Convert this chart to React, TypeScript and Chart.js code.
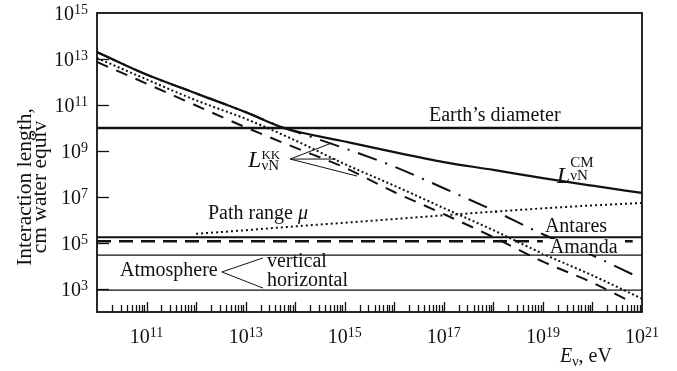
import React, { useEffect, useRef } from "react";
import { Chart, registerables } from "chart.js";

Chart.register(...registerables);

const FONT = '"Liberation Serif", "Times New Roman", serif';

// Axis ranges (eV, cm water equiv)
const X_MIN = 1e10;
const X_MAX = 1e21;
const Y_MIN = 1e2;
const Y_MAX = 1e15;

// Labeled tick exponents
const xTickExponents = [11, 13, 15, 17, 19, 21];
const yTickExponents = [3, 5, 7, 9, 11, 13, 15];

// L_vN^CM (solid)
const cmEnergy = [1e10, 1e11, 1e12, 1e13, 6e13, 1e15, 1e16, 1e17, 1e18, 1e19, 1e20, 1e21];
const cmLength = [2e13, 2.1e12, 3.2e11, 4.9e10, 1e10, 2.6e9, 8.9e8, 3.3e8, 1.5e8, 6.6e7, 3.1e7, 1.5e7];

// L_vN^KK (dash-dot)
const kkDashDotEnergy = [1e10, 1e11, 1e12, 1e13, 6e13, 1e14, 1e15, 1e16, 1e17, 1e18, 1e19, 1e20, 6.8e20];
const kkDashDotLength = [2e13, 2.1e12, 3.2e11, 4.9e10, 1e10, 7e9, 1.3e9, 2.1e8, 2.4e7, 2.6e6, 2.4e5, 2.9e4, 4.1e3];

// L_vN^KK (dotted)
const kkDottedEnergy = [1e10, 1e11, 1e12, 1e13, 1e14, 1e15, 1e16, 1e17, 1e18, 1e19, 1e20, 1e21];
const kkDottedLength = [1.1e13, 1.3e12, 1.6e11, 2.5e10, 2.9e9, 2.7e8, 3.1e7, 3.3e6, 3.6e5, 3.4e4, 3.9e3, 3.8e2];

// L_vN^KK (dashed)
const kkDashedEnergy = [1e10, 1e11, 1e12, 1e13, 1e14, 1e15, 1e16, 1e17, 1e18, 1e19, 1e20, 5.1e20];
const kkDashedLength = [7.4e12, 8.5e11, 9.5e10, 1.07e10, 1.4e9, 1.9e8, 1.65e7, 1.8e6, 1.8e5, 1.55e4, 1.9e3, 3.3e2];

// Muon path range (dotted)
const muEnergy = [1e12, 1e13, 1e14, 1e15, 1e16, 1e17, 1e18, 1e19, 1e20, 1e21];
const muRange = [2.5e5, 3.6e5, 5.3e5, 7.6e5, 1.1e6, 1.6e6, 2.3e6, 3.2e6, 4.3e6, 5.5e6];

// Horizontal reference levels
const earthDiameter = 1e10;
const antaresDepth = 1.8e5;
const amandaDepth = 1.2e5;
const amandaEnd = 6.5e20;
const atmosphereHorizontal = 3e4;
const atmosphereVertical = 9e2;

const pts = (E: number[], L: number[]) => E.map((e, i) => ({ x: e, y: L[i] }));
const hline = (v: number, x0 = X_MIN, x1 = X_MAX) => [
  { x: x0, y: v },
  { x: x1, y: v },
];

function drawPow(ctx: CanvasRenderingContext2D, exp: string, x: number, baseline: number, align: "center" | "right") {
  ctx.font = `20px ${FONT}`;
  const wb = ctx.measureText("10").width;
  ctx.font = `14px ${FONT}`;
  const we = ctx.measureText(exp).width;
  const total = wb + we;
  const x0 = align === "center" ? x - total / 2 : x - total;
  ctx.textAlign = "left";
  ctx.textBaseline = "alphabetic";
  ctx.font = `20px ${FONT}`;
  ctx.fillText("10", x0, baseline);
  ctx.font = `14px ${FONT}`;
  ctx.fillText(exp, x0 + wb, baseline - 6);
}

const decorPlugin = {
  id: "decor",
  afterDraw(chart: any) {
    const ctx: CanvasRenderingContext2D = chart.ctx;
    const xs = chart.scales.x;
    const ys = chart.scales.y;
    const a = chart.chartArea;
    const px = (le: number) => xs.getPixelForValue(Math.pow(10, le));
    const py = (ll: number) => ys.getPixelForValue(Math.pow(10, ll));
    ctx.save();
    ctx.fillStyle = "#111";
    ctx.strokeStyle = "#111";

    // frame
    ctx.lineWidth = 1.8;
    ctx.strokeRect(a.left, a.top, a.right - a.left, a.bottom - a.top);

    // bottom ticks (inside)
    ctx.lineWidth = 1.3;
    for (let d = 10; d <= 20; d++) {
      for (let m = 1; m <= 9; m++) {
        const v = m * Math.pow(10, d);
        const x = Math.round(xs.getPixelForValue(v)) + 0.5;
        const len = m === 1 ? 10 : 7;
        if (d === 10 && m === 1) continue;
        ctx.beginPath();
        ctx.moveTo(x, a.bottom);
        ctx.lineTo(x, a.bottom - len);
        ctx.stroke();
      }
    }
    // left ticks (inside)
    for (const e of yTickExponents) {
      if (e === 15) continue;
      const y = Math.round(py(e)) + 0.5;
      ctx.beginPath();
      ctx.moveTo(a.left, y);
      ctx.lineTo(a.left + 12, y);
      ctx.stroke();
    }

    // tick labels
    for (const e of xTickExponents) drawPow(ctx, String(e), px(e), a.bottom + 31, "center");
    for (const e of yTickExponents) drawPow(ctx, String(e), a.left - 9, py(e) + 7, "right");

    // x title
    ctx.textAlign = "left";
    ctx.textBaseline = "alphabetic";
    ctx.font = `italic 20px ${FONT}`;
    ctx.fillText("E", 560, 362);
    const wE = ctx.measureText("E").width;
    ctx.font = `14px ${FONT}`;
    ctx.fillText("ν", 560 + wE, 366);
    const wn = ctx.measureText("ν").width;
    ctx.font = `20px ${FONT}`;
    ctx.fillText(", eV", 560 + wE + wn, 362);

    // y title
    ctx.save();
    ctx.translate(0, 187);
    ctx.rotate(-Math.PI / 2);
    ctx.textAlign = "center";
    ctx.font = `21.5px ${FONT}`;
    ctx.fillText("Interaction length,", 0, 31);
    ctx.fillText("cm water equiv", 0, 45.5);
    ctx.restore();

    // annotations
    ctx.textAlign = "left";
    ctx.font = `20px ${FONT}`;
    ctx.fillText("Earth’s diameter", px(16.7), py(10.304));
    ctx.fillText("Path range ", px(12.24), py(6.043));
    const wp = ctx.measureText("Path range ").width;
    ctx.font = `italic 20px ${FONT}`;
    ctx.fillText("μ", px(12.24) + wp, py(6.043));
    ctx.font = `20px ${FONT}`;
    ctx.fillText("Antares", px(19.04), py(5.478));
    // Amanda with white background
    const amW = ctx.measureText("Amanda").width;
    ctx.fillStyle = "#fff";
    ctx.fillRect(px(19.14) - 7, py(4.565) - 14, amW + 10, 15);
    ctx.fillStyle = "#111";
    ctx.fillText("Amanda", px(19.14), py(4.565));
    ctx.fillText("Atmosphere", px(10.464), py(3.565));
    ctx.fillText("vertical", px(13.43), py(3.957));
    ctx.fillText("horizontal", px(13.43), py(3.13));

    // atmosphere arrows
    ctx.lineWidth = 1;
    ctx.beginPath();
    ctx.moveTo(px(13.35), py(4.35));
    ctx.lineTo(px(12.52), py(3.74));
    ctx.lineTo(px(13.35), py(3.04));
    ctx.stroke();

    // L labels
    const lLabel = (x: number, base: number, sup: string, supDy: number, subDy: number, supSize: number) => {
      ctx.font = `italic 24px ${FONT}`;
      ctx.fillText("L", x, base);
      const wL = ctx.measureText("L").width;
      ctx.font = `${supSize}px ${FONT}`;
      ctx.fillText(sup, x + wL, base + supDy);
      ctx.font = `15px ${FONT}`;
      ctx.fillText("νN", x + wL, base + subDy);
    };
    lLabel(px(19.28), py(7.61), "CM", -16, -3, 15);
    lLabel(px(13.05), py(8.3), "KK", -8, 3, 13);

    // KK arrows
    ctx.lineWidth = 1;
    const ax = px(13.9);
    const ay = py(8.65);
    const ends = [
      [14.74, 9.35],
      [14.82, 8.65],
      [15.25, 7.91],
    ];
    for (const [ex, ey] of ends) {
      ctx.beginPath();
      ctx.moveTo(ax, ay);
      ctx.lineTo(px(ex), py(ey));
      ctx.stroke();
    }
    ctx.restore();
  },
};

export default function App() {
  const ref = useRef<HTMLCanvasElement>(null);
  useEffect(() => {
    const canvas = ref.current!;
    const base = { showLine: true, pointRadius: 0, borderColor: "#111", fill: false };
    const chart = new Chart(canvas, {
      type: "scatter",
      data: {
        datasets: [
          { ...base, data: hline(earthDiameter), borderWidth: 2.6 },
          { ...base, data: hline(antaresDepth), borderWidth: 2 },
          { ...base, data: hline(amandaDepth, X_MIN, amandaEnd), borderWidth: 2.6, borderDash: [14, 8] },
          { ...base, data: hline(atmosphereHorizontal), borderWidth: 1.3 },
          { ...base, data: hline(atmosphereVertical), borderWidth: 1.3 },
          { ...base, data: pts(muEnergy, muRange), borderWidth: 2, borderDash: [2, 3], cubicInterpolationMode: "monotone" },
          { ...base, data: pts(cmEnergy, cmLength), borderWidth: 2.2, cubicInterpolationMode: "monotone" },
          { ...base, data: pts(kkDashDotEnergy, kkDashDotLength), borderWidth: 2, borderDash: [20, 9, 2, 9], cubicInterpolationMode: "monotone" },
          { ...base, data: pts(kkDottedEnergy, kkDottedLength), borderWidth: 2, borderDash: [2, 2.5], cubicInterpolationMode: "monotone" },
          { ...base, data: pts(kkDashedEnergy, kkDashedLength), borderWidth: 2, borderDash: [12, 9], cubicInterpolationMode: "monotone" },
        ],
      } as any,
      options: {
        animation: false,
        responsive: false,
        devicePixelRatio: 1,
        events: [],
        layout: { padding: { left: 97, right: 35, top: 13, bottom: 59 } },
        plugins: { legend: { display: false }, tooltip: { enabled: false } },
        scales: {
          x: { type: "logarithmic", min: X_MIN, max: X_MAX, display: false },
          y: { type: "logarithmic", min: Y_MIN, max: Y_MAX, display: false },
        },
      } as any,
      plugins: [decorPlugin],
    });
    return () => chart.destroy();
  }, []);
  return (
    <div style={{ position: "fixed", left: 0, top: 0, width: 677, height: 371, background: "#fff" }}>
      <canvas ref={ref} width={677} height={371} style={{ display: "block" }} />
    </div>
  );
}
